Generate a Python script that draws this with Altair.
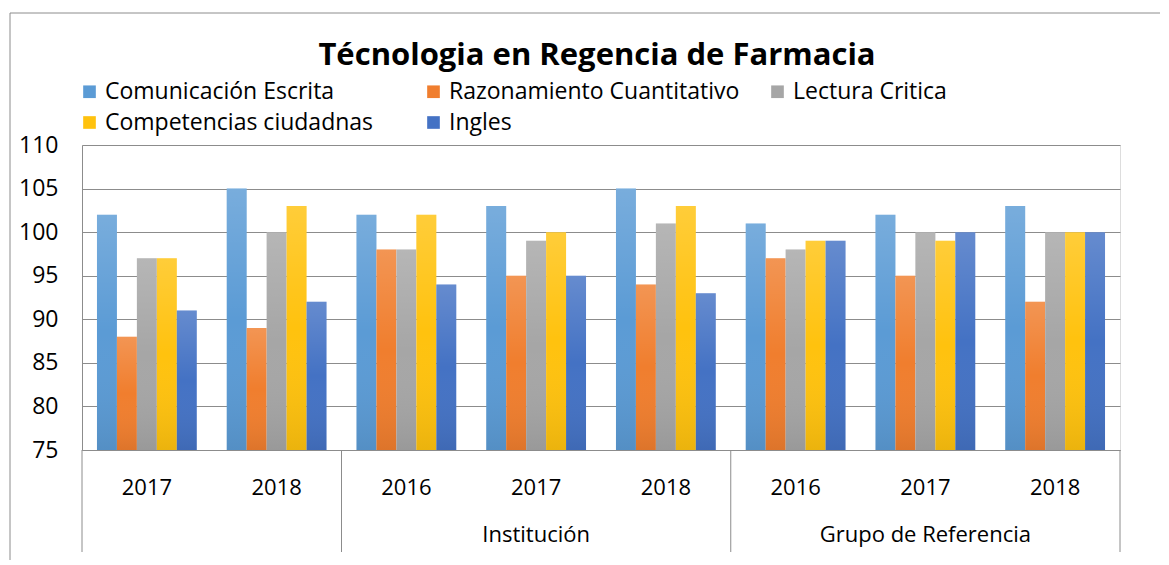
import altair as alt
import pandas as pd

series = ["Comunicación Escrita", "Razonamiento Cuantitativo", "Lectura Critica",
          "Competencias ciudadnas", "Ingles"]
colors = ["#5B9BD5", "#F07E2E", "#A6A6A6", "#FFC20E", "#4472C4"]

groups = ["", "", "Institución", "Institución", "Institución",
          "Grupo de Referencia", "Grupo de Referencia", "Grupo de Referencia"]
years = ["2017", "2018", "2016", "2017", "2018", "2016", "2017", "2018"]

comunicacion = [102, 105, 102, 103, 105, 101, 102, 103]
razonamiento = [88, 89, 98, 95, 94, 97, 95, 92]
lectura = [97, 100, 98, 99, 101, 98, 100, 100]
competencias = [97, 103, 102, 100, 103, 99, 99, 100]
ingles = [91, 92, 94, 95, 93, 99, 100, 100]

values = [comunicacion, razonamiento, lectura, competencias, ingles]
slots = [f"{g}|{y}" for g, y in zip(groups, years)]

rows = []
for s, vals in zip(series, values):
    for k, v in zip(slots, vals):
        rows.append({"slot": k, "serie": s, "valor": v})
df = pd.DataFrame(rows)

group_labels = pd.DataFrame({"slot": ["Institución|2017", "Grupo de Referencia|2017"],
                             "texto": ["Institución", "Grupo de Referencia"]})
group_starts = pd.DataFrame({"slot": [slots[0], slots[2], slots[5]]})
group_end = pd.DataFrame({"slot": [slots[7]]})

FONT = "Open Sans"
GRID = "#8C8C8C"

xscale = alt.Scale(domain=slots, paddingInner=0, paddingOuter=0)

x_enc = alt.X("slot:N", sort=slots, scale=xscale,
              axis=alt.Axis(title=None, labelExpr="split(datum.label, '|')[1]",
                            labelAngle=0, labelFontSize=22, labelFont=FONT,
                            labelColor="#000000", labelPadding=27, ticks=False,
                            domainColor=GRID, grid=False))
y_enc = alt.Y("valor:Q",
              scale=alt.Scale(domain=[75, 110], nice=False, zero=False),
              axis=alt.Axis(title=None, values=[75, 80, 85, 90, 95, 100, 105, 110],
                            labelFontSize=23, labelFont=FONT, labelColor="#000000",
                            labelPadding=24, ticks=False, domainColor=GRID,
                            gridColor=GRID, gridWidth=1))
xoff = alt.XOffset("serie:N", sort=series,
                   scale=alt.Scale(domain=series, paddingInner=0, paddingOuter=0.75))

bars = alt.Chart(df).mark_bar().encode(
    x=x_enc, y=y_enc, y2=alt.datum(75), xOffset=xoff,
    color=alt.Color("serie:N", sort=series,
                    scale=alt.Scale(domain=series, range=colors),
                    legend=alt.Legend(title=None, orient="none", legendX=-4, legendY=-65,
                                      direction="horizontal",
                                      columns=3, gridAlign="all", columnPadding=26,
                                      rowPadding=7, symbolType="square", symbolSize=160,
                                      symbolStrokeWidth=0, labelFontSize=23,
                                      labelFont=FONT, labelColor="#000000",
                                      labelLimit=400, symbolOffset=0))
)

shade = alt.Chart(df).mark_bar(
    fill=alt.LinearGradient(gradient="linear", x1=0, x2=0, y1=0, y2=1,
                            stops=[alt.GradientStop(color="rgba(255,255,255,0.18)", offset=0),
                                   alt.GradientStop(color="rgba(255,255,255,0.0)", offset=0.5),
                                   alt.GradientStop(color="rgba(0,0,0,0.08)", offset=1)])
).encode(x=alt.X("slot:N", sort=slots, scale=xscale), y=alt.Y("valor:Q"),
         y2=alt.datum(75), xOffset=xoff)

dividers = alt.Chart(group_starts).mark_rule(color=GRID, strokeWidth=1).encode(
    x=alt.X("slot:N", sort=slots, scale=xscale, bandPosition=0),
    y=alt.value(305), y2=alt.value(407))
divider_end = alt.Chart(group_end).mark_rule(color=GRID, strokeWidth=1).encode(
    x=alt.X("slot:N", sort=slots, scale=xscale, bandPosition=1),
    y=alt.value(305), y2=alt.value(407))

glabels = alt.Chart(group_labels).mark_text(fontSize=22, font=FONT, color="#000000",
                                            baseline="middle").encode(
    x=alt.X("slot:N", sort=slots, scale=xscale), y=alt.value(390), text="texto:N")

title = alt.Chart(pd.DataFrame({"t": ["Técnologia en Regencia de Farmacia"]})).mark_text(
    fontSize=31, font=FONT, fontWeight="bold", color="#000000", baseline="middle"
).encode(x=alt.value(515), y=alt.value(-89), text="t:N")

border_top = alt.Chart(pd.DataFrame({"a": [0]})).mark_rule(color=GRID).encode(
    x=alt.value(-72), x2=alt.value(1078), y=alt.value(-132))
border_left = alt.Chart(pd.DataFrame({"a": [0]})).mark_rule(color=GRID).encode(
    x=alt.value(-72), y=alt.value(-132), y2=alt.value(420))

chart = alt.layer(border_top, border_left, bars, shade, dividers, divider_end,
                  glabels, title).properties(
    width=1038, height=305,
    padding={"left": 74, "top": 137, "right": 40, "bottom": 110},
    autosize=alt.AutoSizeParams(type="none"),
).configure_view(stroke=None).configure(background="white")

chart.save("out.html", embed_options={"renderer": "svg", "actions": False})
